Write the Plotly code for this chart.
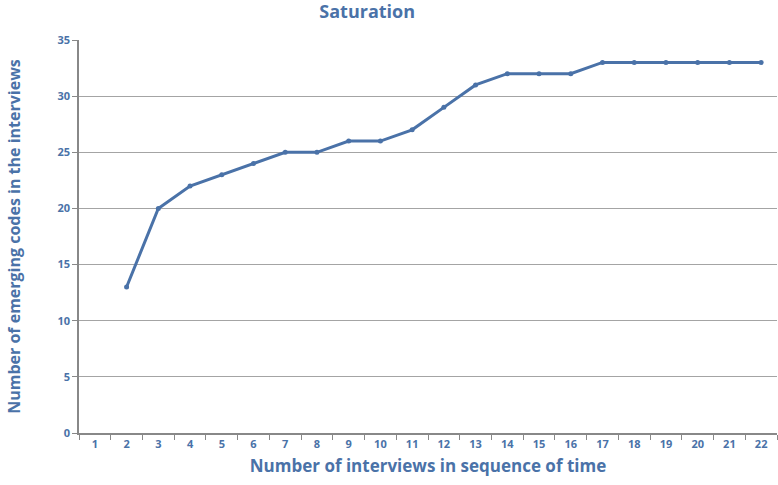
import plotly.graph_objects as go

# interview number (categories) and cumulative emerging codes
interviews = [str(i) for i in range(1, 23)]
codes = [None, 13, 20, 22, 23, 24, 25, 25, 26, 26, 27, 29, 31, 32, 32, 32, 33, 33, 33, 33, 33, 33]

blue = "#4a72a8"
font_family = "Open Sans, Lato, sans-serif"

fig = go.Figure(go.Scatter(
    x=interviews, y=codes, mode="lines+markers",
    line=dict(color=blue, width=3),
    marker=dict(color=blue, size=5),
    connectgaps=False,
))

fig.update_layout(
    width=778, height=485,
    margin=dict(l=79, r=1, t=40, b=52, autoexpand=False),
    paper_bgcolor="white", plot_bgcolor="white",
    showlegend=False,
    title=dict(text="<b>Saturation</b>", x=0.472, xanchor="center", y=0.975, yanchor="middle",
               font=dict(family=font_family, size=18, color=blue)),
    font=dict(family=font_family, color=blue),
)

fig.update_xaxes(
    type="category", range=[-0.5, 21.5], tickson="boundaries", ticks="outside", ticklen=5,
    tickcolor="#888", showline=True, linecolor="#888", linewidth=1.5, showgrid=False,
    automargin=False,
    tickfont=dict(size=11, color=blue, family=font_family, weight="bold"),
    title=dict(text="<b>Number of interviews in sequence of time</b>", standoff=10,
               font=dict(size=17, color=blue, family=font_family)),
)

fig.update_yaxes(
    range=[0, 35], dtick=5, ticks="outside", ticklen=5, tickcolor="#888",
    showline=True, linecolor="#888", linewidth=1.5, automargin=False,
    showgrid=True, gridcolor="#a4a4a4", gridwidth=1, zeroline=False,
    tickfont=dict(size=11, color=blue, family=font_family, weight="bold"),
    title=dict(text="<b>Number of emerging codes in the interviews</b>", standoff=33,
               font=dict(size=16, color=blue, family=font_family)),
)

# drop the default page margin so the 778x485 figure fills the window
fig.write_html("out.html", config={"displayModeBar": False},
               post_script="document.body.style.margin='0';")
